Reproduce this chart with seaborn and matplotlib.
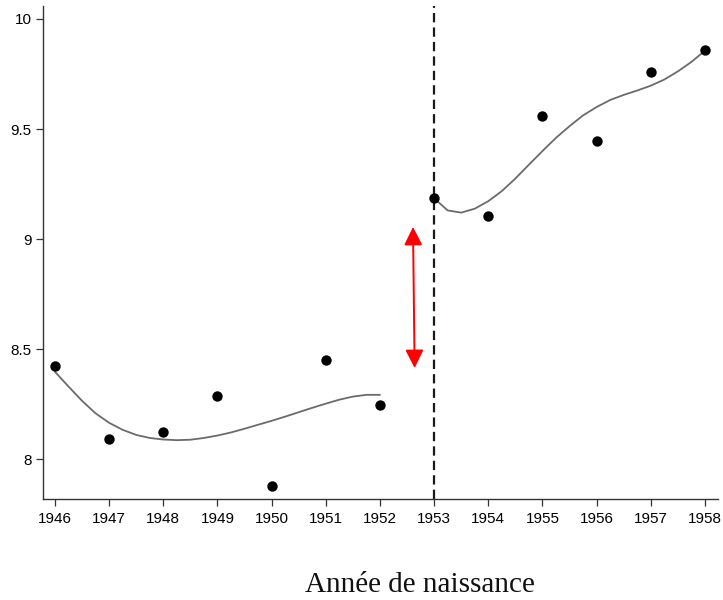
import matplotlib
matplotlib.use("Agg")
import matplotlib.pyplot as plt
import seaborn as sns
import pandas as pd

# Mean outcome by year of birth
years = [1946, 1947, 1948, 1949, 1950, 1951, 1952,
         1953, 1954, 1955, 1956, 1957, 1958]
means = [8.421, 8.092, 8.124, 8.288, 7.876, 8.451, 8.247,
         9.186, 9.103, 9.557, 9.445, 9.759, 9.859]

# Smoothed fit before the 1953 cutoff
fit_left_x = [1946, 1946.25, 1946.5, 1946.75, 1947, 1947.25, 1947.5, 1947.75,
              1948, 1948.25, 1948.5, 1948.75, 1949, 1949.25, 1949.5, 1949.75,
              1950, 1950.25, 1950.5, 1950.75, 1951, 1951.25, 1951.5, 1951.75, 1952]
fit_left_y = [8.397, 8.330, 8.265, 8.208, 8.165, 8.133, 8.110, 8.096,
              8.089, 8.086, 8.088, 8.096, 8.107, 8.121, 8.138, 8.156,
              8.174, 8.193, 8.213, 8.233, 8.252, 8.270, 8.284, 8.292, 8.292]

# Smoothed fit from the cutoff on
fit_right_x = [1953, 1953.25, 1953.5, 1953.75, 1954, 1954.25, 1954.5, 1954.75,
               1955, 1955.25, 1955.5, 1955.75, 1956, 1956.25, 1956.5, 1956.75,
               1957, 1957.25, 1957.5, 1957.75, 1958]
fit_right_y = [9.185, 9.130, 9.120, 9.138, 9.172, 9.218, 9.275, 9.338,
               9.400, 9.460, 9.513, 9.562, 9.600, 9.632, 9.655, 9.675,
               9.697, 9.725, 9.762, 9.805, 9.856]

cutoff = 1953
gap_x = [1952.61, 1952.64]
gap_y = [9.055, 8.414]

y_ticks = [8, 8.5, 9, 9.5, 10]
y_tick_labels = ["8", "8.5", "9", "9.5", "10"]
x_label = "Année de naissance"

sns.set_style("ticks")
plt.rcParams["font.family"] = ["Liberation Sans", "DejaVu Sans"]

fig = plt.figure(figsize=(7.23, 6.0), dpi=100)
ax = fig.add_axes([43 / 723, 1 - 498.7 / 600, (718 - 43) / 723, (498.7 - 6) / 600])

pts = pd.DataFrame({"year": years, "mean": means})
left = pd.DataFrame({"year": fit_left_x, "fit": fit_left_y})
right = pd.DataFrame({"year": fit_right_x, "fit": fit_right_y})

sns.lineplot(data=left, x="year", y="fit", ax=ax, color="#6b6b6b", lw=1.3)
sns.lineplot(data=right, x="year", y="fit", ax=ax, color="#6b6b6b", lw=1.3)
sns.scatterplot(data=pts, x="year", y="mean", ax=ax, color="black", s=56,
                linewidth=0, zorder=3)

ax.axvline(cutoff, color="#1a1a1a", lw=1.6, linestyle=(0, (4.2, 2.3)), zorder=1)

ax.annotate("", xy=(gap_x[0], gap_y[0]), xytext=(gap_x[1], gap_y[1]),
            arrowprops=dict(arrowstyle="<|-|>,head_length=1.1,head_width=0.55",
                            color="#ff0000", lw=1.4, shrinkA=0, shrinkB=0,
                            mutation_scale=10))

ax.set_xlim(1945.78, 1958.24)
ax.set_ylim(7.82, 10.059)
ax.set_xticks(years)
ax.set_xticklabels([str(y) for y in years])
ax.set_yticks(y_ticks)
ax.set_yticklabels(y_tick_labels)
ax.set_xlabel("")
ax.set_ylabel("")

for side in ("top", "right"):
    ax.spines[side].set_visible(False)
for side in ("left", "bottom"):
    ax.spines[side].set_color("#333333")
    ax.spines[side].set_linewidth(1.0)

ax.tick_params(axis="both", direction="out", length=4.8, width=0.9,
               color="#333333", labelsize=11, labelcolor="black")
ax.tick_params(axis="x", pad=4.5)
ax.tick_params(axis="y", pad=3.5)

fig.text(420 / 723, 1 - 592 / 600, x_label, ha="center", va="baseline",
         fontsize=21, family=["Liberation Serif", "DejaVu Serif"], color="#111111")

fig.savefig("out.png", dpi=100)
